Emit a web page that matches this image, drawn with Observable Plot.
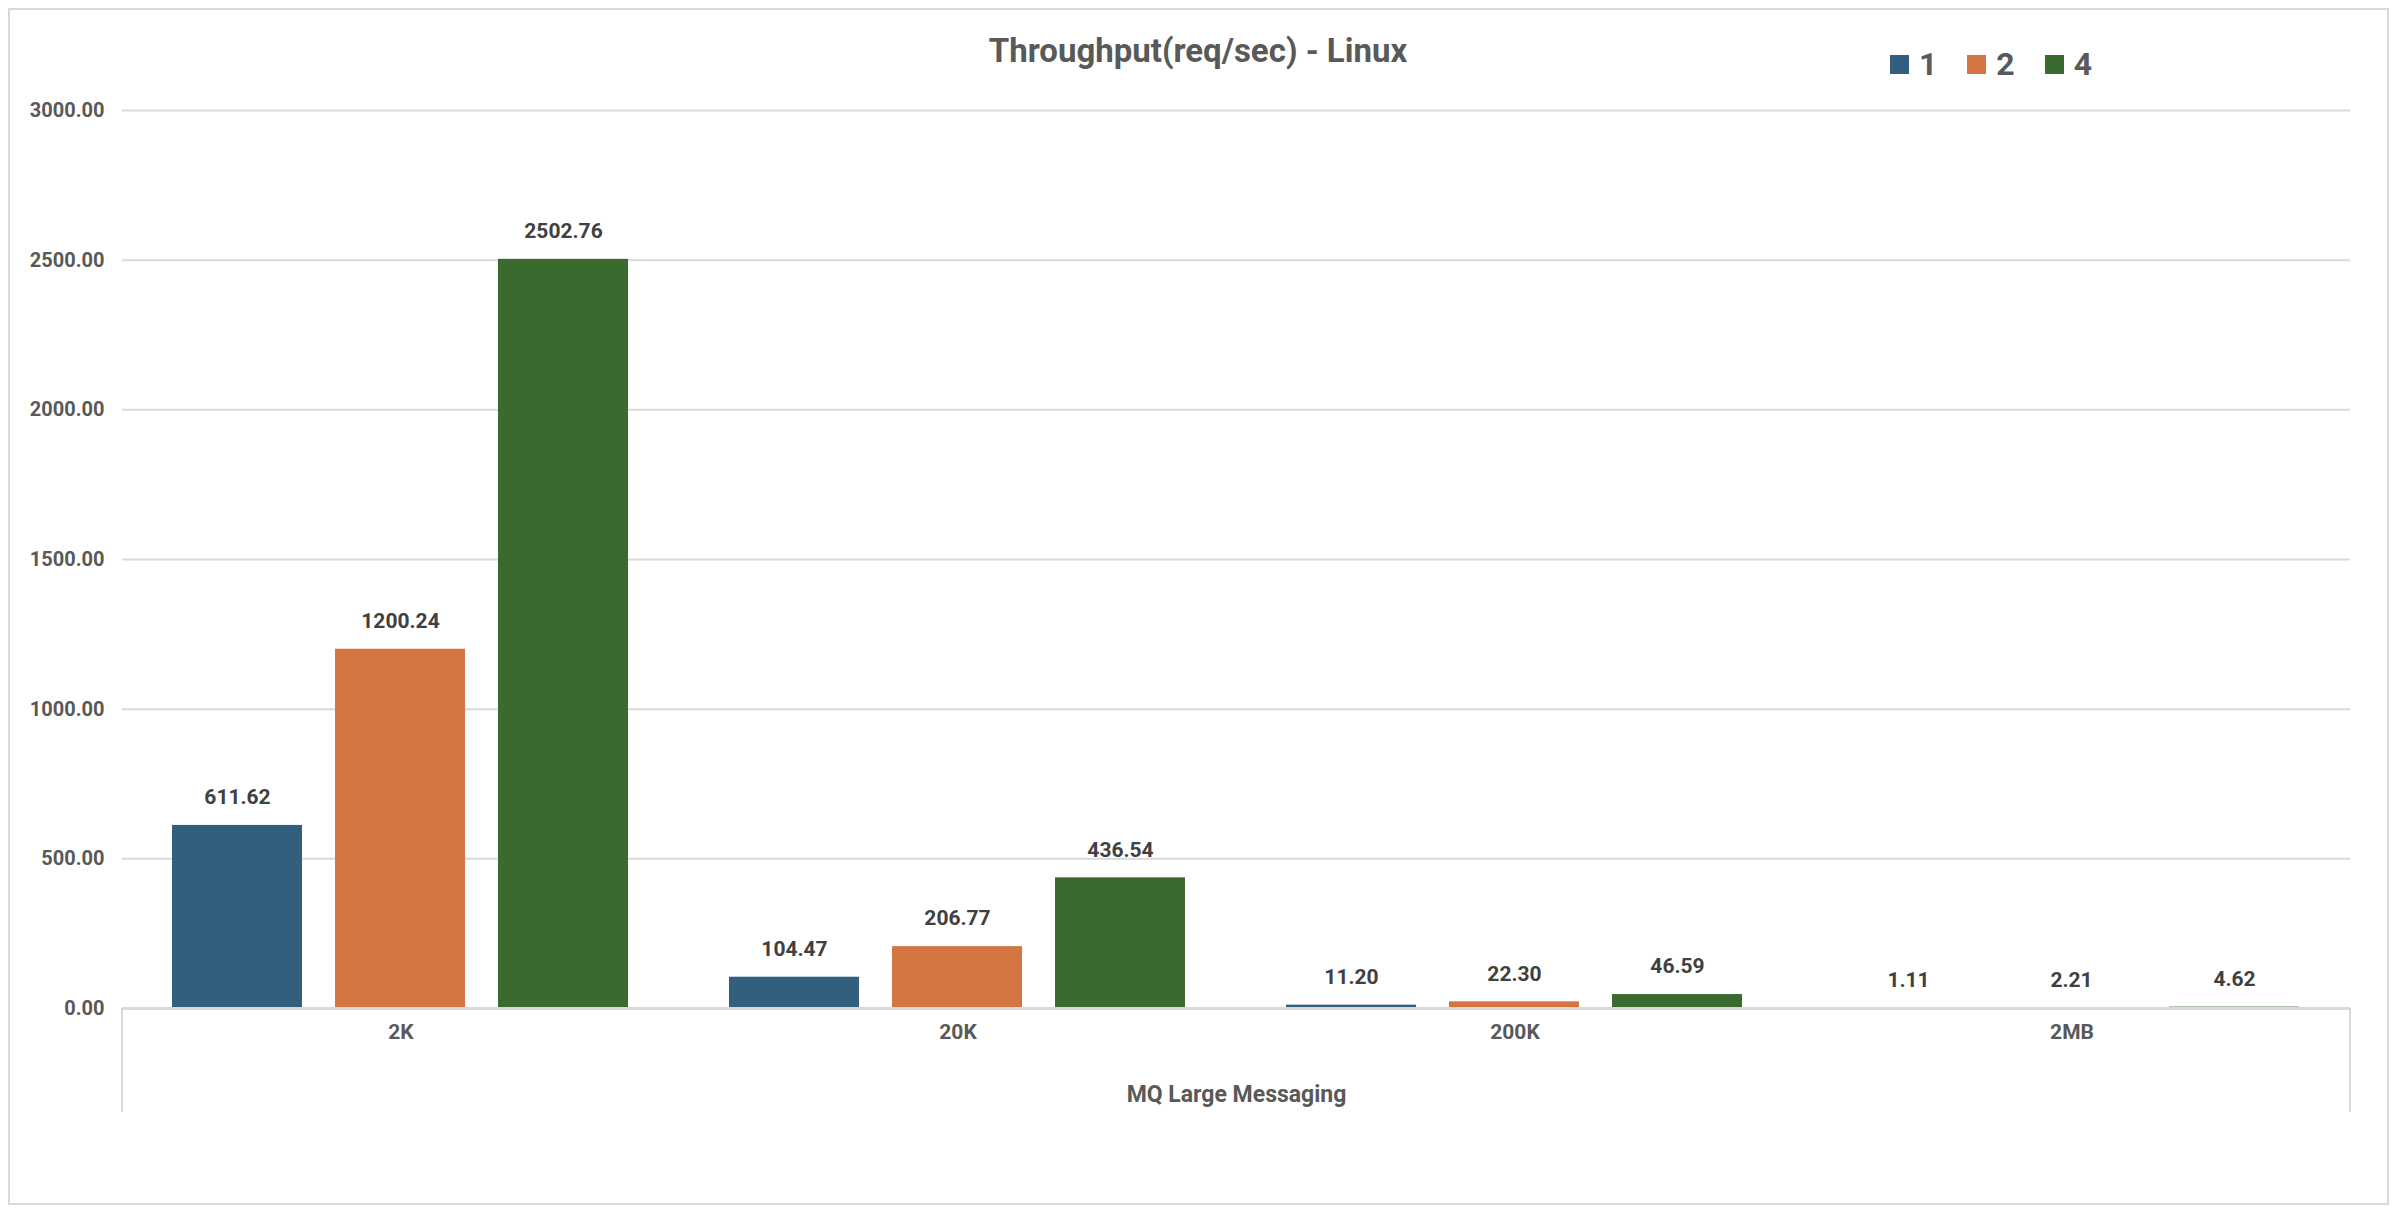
<!DOCTYPE html>
<html>
<head>
<meta charset="utf-8">
<script src="https://cdn.jsdelivr.net/npm/d3@7"></script>
<script src="https://cdn.jsdelivr.net/npm/@observablehq/plot@0.6"></script>
<style>
  html, body { margin: 0; padding: 0; background: #fff; }
  body { width: 2396px; height: 1214px; position: relative; overflow: hidden;
         font-family: "Liberation Sans Narrow", "Roboto", sans-serif; font-weight: bold; }
  #border { position: absolute; left: 8px; top: 8px; width: 2377px; height: 1193px; border: 2px solid #d9d9d9; box-sizing: content-box; }
  #title { position: absolute; left: 0; width: 2396px; top: 31px; text-align: center; font-size: 33px; color: #595959; }
  #legend { position: absolute; left: 1890px; top: 45px; display: flex; align-items: center; color: #595959; font-size: 32px; }
  #legend .item { display: flex; align-items: center; margin-right: 30px; }
  #legend .sw { width: 19px; height: 19px; margin-right: 10px; }
  #chart { position: absolute; left: 0; top: 0; }
</style>
</head>
<body>
<div id="border"></div>
<div id="title"></div>
<div id="legend"></div>
<div id="chart"></div>
<script>
const title = "Throughput(req/sec) - Linux";
const categories = ["2K", "20K", "200K", "2MB"];
const seriesNames = ["1", "2", "4"];
const seriesColors = ["#335f7f", "#d57642", "#3b6a2e"];
const values1 = [611.62, 104.47, 11.20, 1.11];
const values2 = [1200.24, 206.77, 22.30, 2.21];
const values4 = [2502.76, 436.54, 46.59, 4.62];
const yTicks = [0, 500, 1000, 1500, 2000, 2500, 3000];
const xLabel = "MQ Large Messaging";

const seriesValues = [values1, values2, values4];
const data = [];
categories.forEach((c, i) => {
  seriesNames.forEach((s, j) => data.push({ category: c, series: s, value: seriesValues[j][i] }));
});

document.getElementById("title").textContent = title;
const legend = document.getElementById("legend");
seriesNames.forEach((s, j) => {
  const it = document.createElement("div");
  it.className = "item";
  const sw = document.createElement("div");
  sw.className = "sw";
  sw.style.background = seriesColors[j];
  const lab = document.createElement("span");
  lab.textContent = s;
  it.appendChild(sw); it.appendChild(lab);
  legend.appendChild(it);
});

const font = `"Liberation Sans Narrow", "Roboto", sans-serif`;
const plot = Plot.plot({
  width: 2396,
  height: 1214,
  marginLeft: 122,
  marginRight: 46,
  marginTop: 110,
  marginBottom: 206,
  style: { fontFamily: font, fontWeight: "bold", fontSize: "20px", color: "#595959", background: "transparent" },
  fx: { domain: categories, paddingInner: 0, paddingOuter: 0 },
  x: { domain: seriesNames, paddingInner: 0.2, paddingOuter: 0.3 },
  y: { domain: [0, 3000] },
  color: { domain: seriesNames, range: seriesColors },
  marks: [
    Plot.ruleY(yTicks.filter(d => d > 0), { stroke: "#d9d9d9", strokeWidth: 2 }),
    Plot.axisY({ ticks: yTicks, tickFormat: d3.format(".2f"), tickSize: 0, tickPadding: 18, label: null, fill: "#595959", fontSize: 20 }),
    Plot.axisFx({ anchor: "bottom", tickSize: 0, tickPadding: 16, label: xLabel, labelAnchor: "center", labelArrow: "none", labelOffset: 93, fontSize: 21, fill: "#595959" }),
    Plot.axisX({ ticks: [] , label: null, tickSize: 0, tickFormat: () => "" }),
    Plot.barY(data, { fx: "category", x: "series", y: "value", fill: "series" }),
    Plot.text(data, { fx: "category", x: "series", y: "value", text: d => d.value.toFixed(2), dy: -28, fill: "#404040", fontSize: 21, fontWeight: "bold" }),
    Plot.ruleY([0], { stroke: "#d9d9d9", strokeWidth: 3 })
  ]
});
document.getElementById("chart").appendChild(plot);
// make the x-axis title a little larger, like the reference
d3.select(plot).selectAll("[aria-label='fx-axis label'] text").style("font-size", "23px");

// bottom category box lines (left and right), from the scales
const fx = plot.scale("fx");
const y = plot.scale("y");
const y0 = y.apply(0);
const svg = d3.select(plot);
[fx.range[0], fx.range[1]].forEach(xp => {
  svg.append("line").attr("x1", xp).attr("x2", xp).attr("y1", y0).attr("y2", y0 + 104)
    .attr("stroke", "#d9d9d9").attr("stroke-width", 2);
});
</script>
</body>
</html>
